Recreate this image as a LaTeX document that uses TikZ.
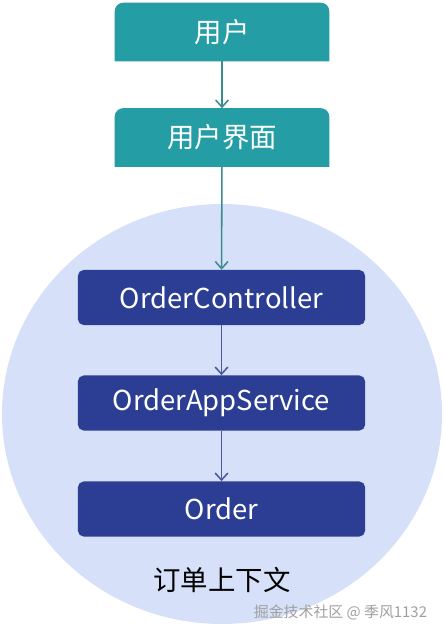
\documentclass[tikz,border=0pt]{standalone}
\usepackage{fontspec}
\setmainfont{Noto Sans CJK SC}
\usepackage{tikz}
\usetikzlibrary{arrows.meta,backgrounds}
\usepackage{xcolor}
\definecolor{userteal}{HTML}{249DA4}
\definecolor{tealline}{HTML}{3A8C92}
\definecolor{layerblue}{HTML}{2C3E94}
\definecolor{blueline}{HTML}{4B5A9C}
\definecolor{ctxfill}{HTML}{D6E0F8}

\begin{document}
\begin{tikzpicture}[x=0.025cm, y=-0.025cm,
  topbox/.style={minimum width=5.35cm, minimum height=1.45cm, inner sep=0pt, text=white, font=\fontsize{19.5}{22}\selectfont},
  layerbox/.style={fill=layerblue, rounded corners=4pt, minimum width=7.175cm, minimum height=1.375cm, inner sep=0pt, text=white, font=\fontsize{19.5}{22}\selectfont},
  tealarrow/.style={draw=tealline, line width=1.1pt, -{Straight Barb[length=5pt,width=9pt]}},
  bluearrow/.style={draw=blueline, line width=1.1pt, -{Straight Barb[length=5pt,width=9pt]}}]

\useasboundingbox (0,0) rectangle (444,636);

% user side
\node[topbox] (user) at (222,32) {用户};
\node[topbox] (ui) at (222,137.5) {用户界面};

% order context
\node[layerbox] (ctrl) at (221.5,297.5) {OrderController};
\node[layerbox] (app) at (221.5,403) {OrderAppService};
\node[layerbox] (order) at (221.5,509) {Order};
\node[font=\fontsize{19.5}{22}\selectfont] (ctxlabel) at (222,580) {订单上下文};

\begin{scope}[on background layer]
  \fill[ctxfill] (222,414) ellipse [x radius=220, y radius=210];
  \fill[userteal] (user.south west) [rounded corners=6pt] -- (user.north west) -- (user.north east) [sharp corners] -- (user.south east) -- cycle;
  \fill[userteal] (ui.south west) [rounded corners=6pt] -- (ui.north west) -- (ui.north east) [sharp corners] -- (ui.south east) -- cycle;
\end{scope}

\draw[tealarrow] (user) -- (ui);
\draw[tealarrow] (ui) -- (ctrl);
\draw[bluearrow] (ctrl) -- (app);
\draw[bluearrow] (app) -- (order);

% watermark
\node[anchor=east, text=gray!75, font=\fontsize{10.6}{12}\selectfont] (mark) at (432,612) {掘金技术社区 @ 季风1132};

\end{tikzpicture}
\end{document}
